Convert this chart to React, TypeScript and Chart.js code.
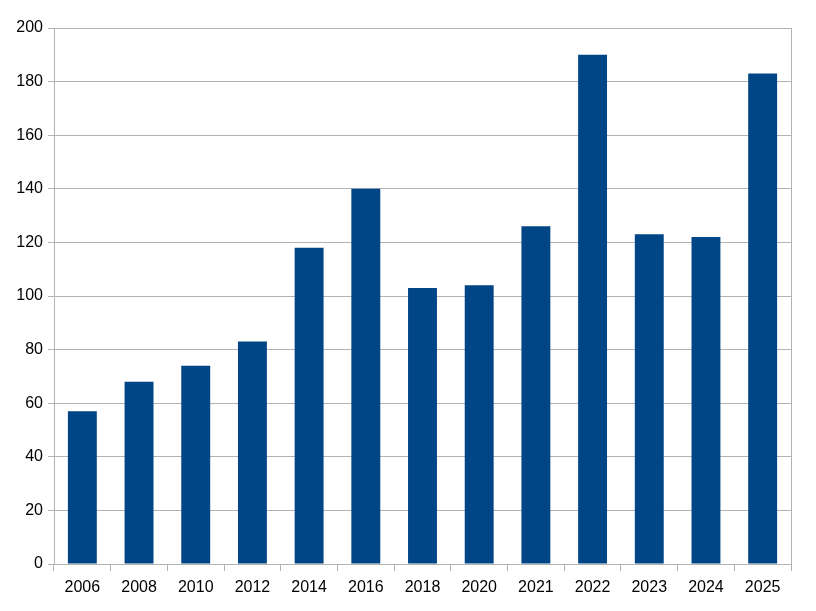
import React, { useEffect, useRef } from "react";
import { Chart, registerables } from "chart.js";

Chart.register(...registerables);

const categories = ["2006", "2008", "2010", "2012", "2014", "2016", "2018", "2020", "2021", "2022", "2023", "2024", "2025"];
const values = [57, 68, 74, 83, 118, 140, 103, 104, 126, 190, 123, 122, 183];
const yTicks = [0, 20, 40, 60, 80, 100, 120, 140, 160, 180, 200];

const GRID = "#b3b3b3";

const rightBorder = {
  id: "rightBorder",
  afterDraw(chart: any) {
    const { ctx, chartArea } = chart;
    ctx.save();
    ctx.strokeStyle = GRID;
    ctx.lineWidth = 1;
    ctx.beginPath();
    const x = Math.round(chartArea.right) + 0.5;
    ctx.moveTo(x, chartArea.top);
    ctx.lineTo(x, chartArea.bottom);
    ctx.stroke();
    ctx.restore();
  },
};

export default function App() {
  const ref = useRef<HTMLCanvasElement>(null);
  useEffect(() => {
    document.body.style.margin = "0";
    const chart = new Chart(ref.current!, {
      type: "bar",
      data: {
        labels: categories,
        datasets: [
          {
            data: values,
            backgroundColor: "#004586",
            categoryPercentage: 1,
            barPercentage: 0.51,
          },
        ],
      },
      options: {
        animation: false,
        responsive: false,
        maintainAspectRatio: false,
        layout: { padding: { top: 28, right: 25, left: 0, bottom: 0 } },
        plugins: { legend: { display: false }, tooltip: { enabled: false } },
        scales: {
          x: {
            grid: { display: true, drawOnChartArea: false, drawTicks: true, tickLength: 7, color: GRID, offset: true },
            border: { display: true, color: GRID },
            ticks: { color: "#000", font: { family: "Liberation Sans", size: 16 }, padding: 7, maxRotation: 0, autoSkip: false },
            afterFit(scale: any) {
              scale.height = 47;
            },
          },
          y: {
            min: 0,
            max: 200,
            afterBuildTicks(scale: any) {
              scale.ticks = yTicks.map((v) => ({ value: v }));
            },
            grid: { color: GRID, tickLength: 6, drawTicks: true },
            border: { display: true, color: GRID },
            ticks: { color: "#000", font: { family: "Liberation Sans", size: 16 }, padding: 5 },
            afterFit(scale: any) {
              scale.width = 54;
            },
          },
        },
      },
      plugins: [rightBorder],
    });
    return () => chart.destroy();
  }, []);
  return (
    <div style={{ position: "absolute", left: 0, top: 0, width: 816, height: 611, background: "#fff" }}>
      <canvas ref={ref} width={816} height={611} style={{ width: 816, height: 611 }} />
    </div>
  );
}
